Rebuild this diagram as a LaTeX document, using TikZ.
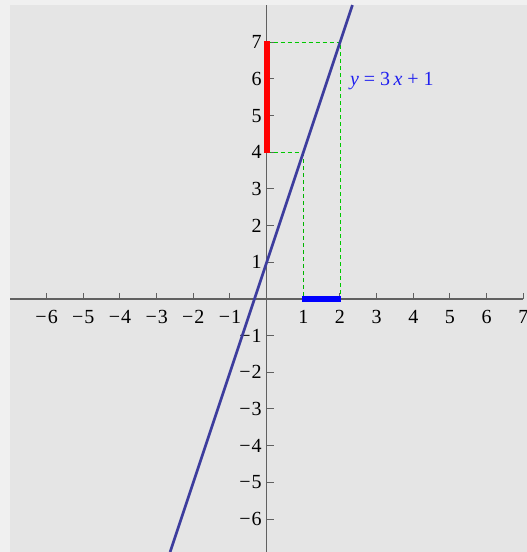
\documentclass[tikz,border=0pt]{standalone}
\usepackage{fontspec}
\setmainfont{Liberation Serif}
\definecolor{outerbg}{HTML}{F0F0F0}
\definecolor{innerbg}{HTML}{E5E5E5}
\definecolor{axiscol}{HTML}{606060}
\definecolor{linecol}{HTML}{3D3D9E}
\definecolor{guidecol}{HTML}{00C800}
\definecolor{labelblue}{HTML}{2020F0}
\definecolor{segred}{HTML}{FF0000}
\definecolor{segblue}{HTML}{0000FF}
\tikzset{
  axisline/.style={draw=axiscol, line width=1.1pt},
  tickmark/.style={draw=axiscol, line width=1pt},
  ticklabel/.style={font=\fontsize{20}{22}\selectfont, inner sep=0pt},
  guide/.style={draw=guidecol, line width=1.3pt, dash pattern=on 4pt off 3pt},
  graphline/.style={draw=linecol, line width=2.7pt},
  seg/.style={line width=5.8pt, line cap=rect},
}
\begin{document}
\begin{tikzpicture}[x=36.67pt,y=36.67pt]
\useasboundingbox (-7.272,-6.900) rectangle (7.100,8.154);
\fill[outerbg] (-7.272,-6.900) rectangle (7.100,8.154);
\fill[innerbg] (-6.998,-6.900) rectangle (7.100,8.017);
% axes
\draw[axisline] (-6.998,0) -- (7.0,0);
\draw[axisline] (0,-6.900) -- (0,8.017);
% ticks and labels
\foreach \i in {-6,...,7} {
  \draw[tickmark] (\i,0) -- (\i,0.16);
  \draw[tickmark] (0,\i) -- (0.19,\i);
}
\foreach \i in {1,...,7} {
  \node[ticklabel] (xl\i) at (\i,-0.48) {\i};
  \node[ticklabel, anchor=east] (yl\i) at (-0.13,\i) {\i};
}
\foreach \i in {1,...,6} {
  \node[ticklabel] (xm\i) at (-\i,-0.48) {−\kern1pt\i};
  \node[ticklabel, anchor=east] (ym\i) at (-0.13,-\i) {−\kern1pt\i};
}
% guides
\coordinate (p7) at (0,7);
\coordinate (q7) at (2.0136,7);
\coordinate (r2) at (2.0136,0);
\coordinate (p4) at (0,4);
\coordinate (q4) at (1.0136,4);
\coordinate (r1) at (1.0136,0);
\draw[guide] (p7) -- (q7) -- (r2);
\draw[guide] (p4) -- (q4);
\draw[guide, draw=guidecol!90!black] (q4) -- (r1);
% segments
\draw[seg, draw=segred] (0,4.05) -- (0,6.95);
\draw[seg, draw=segblue] (1.05,0) -- (1.95,0);
% graph
\coordinate (gb) at (-2.6333,-6.900);
\coordinate (gt) at (2.339,8.017);
\draw[graphline] (gb) -- (gt);
\node[ticklabel, anchor=west, text=labelblue] (eq) at (2.27,5.95) {\textit{y} = 3\,\textit{x} + 1};
\end{tikzpicture}
\end{document}
